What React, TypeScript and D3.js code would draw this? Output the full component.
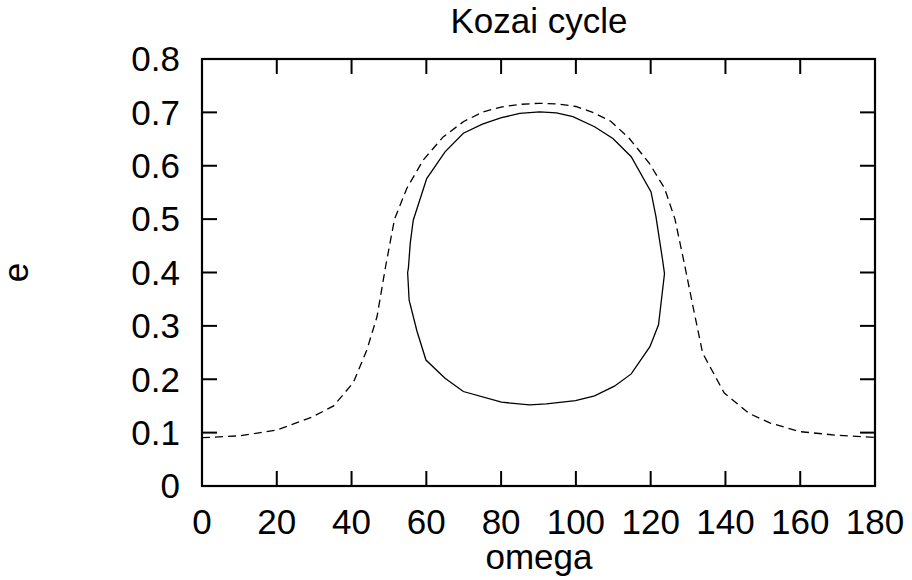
import React from "react";
import * as d3 from "d3";

const title = "Kozai cycle";
const xLabel = "omega";
const yLabel = "e";
const xTicks = [0, 20, 40, 60, 80, 100, 120, 140, 160, 180];
const yTicks = [0, 0.1, 0.2, 0.3, 0.4, 0.5, 0.6, 0.7, 0.8];

// circulating trajectory (dashed)
const circOmega = [0, 10, 14.8, 20, 29.4, 35.2, 40.5, 44.1, 46.8, 49.2, 51.5, 54.8, 59.2, 64.5, 70, 75.2, 80, 85, 90, 95, 100, 104.5, 109.4, 114.3, 119.6, 123.7, 126.5, 129, 131.5, 133.9, 139.7, 146.3, 152, 159.7, 170, 180];
const circE = [0.0905, 0.094, 0.099, 0.105, 0.129, 0.15, 0.194, 0.255, 0.317, 0.415, 0.5, 0.558, 0.611, 0.654, 0.683, 0.701, 0.71, 0.715, 0.717, 0.716, 0.711, 0.7, 0.683, 0.651, 0.605, 0.558, 0.5, 0.417, 0.33, 0.249, 0.174, 0.136, 0.118, 0.102, 0.095, 0.091];

// librating trajectory (solid, closed)
const libOmega = [55.0, 55.2, 55.7, 56.5, 60.1, 65, 69.9, 75, 80.1, 85, 90.3, 94.8, 99.2, 105, 109.9, 114.8, 120.1, 121.4, 123.2, 123.7, 122.1, 119.8, 114.8, 110.3, 105, 99.9, 92.1, 87.6, 80.1, 69.9, 65, 59.9, 57.5, 55.4, 55.0];
const libE = [0.4, 0.408, 0.455, 0.498, 0.576, 0.626, 0.661, 0.678, 0.69, 0.698, 0.701, 0.699, 0.692, 0.673, 0.651, 0.617, 0.551, 0.505, 0.423, 0.398, 0.302, 0.261, 0.21, 0.187, 0.169, 0.16, 0.154, 0.152, 0.157, 0.177, 0.202, 0.236, 0.29, 0.348, 0.4];

export default function App() {
  const W = 912, H = 580;
  const left = 202, right = 875, top = 59, bottom = 486;
  const x = d3.scaleLinear().domain([0, 180]).range([left, right]);
  const y = d3.scaleLinear().domain([0, 0.8]).range([bottom, top]);
  const font = "'Liberation Sans', Arial, Helvetica, sans-serif";
  const tick = 15;
  const fs = 35;

  const line = d3.line<[number, number]>().x((d) => x(d[0])).y((d) => y(d[1]));
  const circ = circOmega.map((o, i) => [o, circE[i]] as [number, number]);
  const lib = libOmega.map((o, i) => [o, libE[i]] as [number, number]);

  return (
    <svg width={W} height={H} style={{ position: "absolute", left: 0, top: 0, background: "#fff" }} fontFamily={font}>
      <rect x={0} y={0} width={W} height={H} fill="#fff" />
      {xTicks.map((t) => (
        <g key={"x" + t}>
          <line x1={x(t)} x2={x(t)} y1={bottom} y2={bottom - tick} stroke="#000" strokeWidth={2} />
          <line x1={x(t)} x2={x(t)} y1={top} y2={top + tick} stroke="#000" strokeWidth={2} />
          <text x={x(t)} y={534} textAnchor="middle" fontSize={fs}>{t}</text>
        </g>
      ))}
      {yTicks.map((t) => (
        <g key={"y" + t}>
          <line x1={left} x2={left + tick} y1={y(t)} y2={y(t)} stroke="#000" strokeWidth={2} />
          <line x1={right} x2={right - tick} y1={y(t)} y2={y(t)} stroke="#000" strokeWidth={2} />
          <text x={180} y={y(t) + 12.3} textAnchor="end" fontSize={fs}>{d3.format("")(t)}</text>
        </g>
      ))}
      <path d={line(circ) || ""} fill="none" stroke="#000" strokeWidth={1.3} strokeDasharray="8,5" />
      <path d={line(lib) || ""} fill="none" stroke="#000" strokeWidth={1.3} />
      <rect x={left} y={top} width={right - left} height={bottom - top} fill="none" stroke="#000" strokeWidth={2.2} />
      <text x={539} y={32.5} textAnchor="middle" fontSize={fs}>{title}</text>
      <text x={539} y={569} textAnchor="middle" fontSize={fs}>{xLabel}</text>
      <text transform={`translate(28,272.5) rotate(-90)`} textAnchor="middle" fontSize={fs}>{yLabel}</text>
    </svg>
  );
}
